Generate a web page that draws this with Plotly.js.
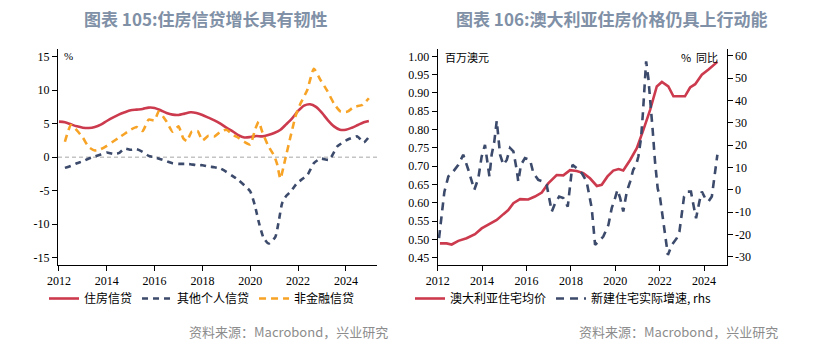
<!DOCTYPE html>
<html>
<head>
<meta charset="utf-8">
<script src="https://cdn.plot.ly/plotly-3.0.1.min.js"></script>
<style>
html,body{margin:0;padding:0;background:#fff;}
#chart{width:813px;height:351px;}
</style>
</head>
<body>
<div id="chart"></div>
<script>
// ---------- Left chart: 图表105 ----------
const housingX = [2012.0,2012.25,2012.5,2012.75,2013.0,2013.25,2013.5,2013.75,2014.0,2014.25,2014.5,2014.75,2015.0,2015.25,2015.5,2015.75,2016.0,2016.25,2016.5,2016.75,2017.0,2017.25,2017.5,2017.75,2018.0,2018.25,2018.5,2018.75,2019.0,2019.25,2019.5,2019.75,2020.0,2020.25,2020.5,2020.75,2021.0,2021.25,2021.5,2021.75,2022.0,2022.25,2022.5,2022.75,2023.0,2023.25,2023.5,2023.75,2024.0,2024.25,2024.5,2024.75,2024.96];
const housingY = [5.3,5.2,4.9,4.6,4.4,4.35,4.5,4.85,5.4,5.9,6.35,6.7,7.0,7.1,7.2,7.4,7.35,7.0,6.6,6.35,6.3,6.5,6.7,6.6,6.3,5.9,5.5,5.0,4.4,3.9,3.3,2.95,3.0,3.15,3.1,3.3,3.6,4.05,4.9,5.8,6.9,7.7,7.9,7.5,6.6,5.5,4.6,4.1,4.1,4.4,4.8,5.2,5.4];

const otherPersonalX = [2012.25,2012.5,2012.75,2013.0,2013.25,2013.5,2013.75,2014.0,2014.25,2014.5,2014.75,2015.0,2015.25,2015.5,2015.75,2016.0,2016.25,2016.5,2016.75,2017.0,2017.25,2017.5,2017.75,2018.0,2018.25,2018.5,2018.75,2019.0,2019.25,2019.5,2019.75,2020.0,2020.2,2020.35,2020.55,2020.77,2021.05,2021.2,2021.33,2021.5,2021.7,2021.95,2022.2,2022.4,2022.66,2022.94,2023.3,2023.64,2024.06,2024.48,2024.75,2024.96];
const otherPersonalY = [-1.6,-1.3,-0.9,-0.6,-0.2,0.1,0.4,0.7,0.5,0.6,1.3,1.1,1.2,0.8,0.2,0.0,-0.3,-0.6,-0.9,-1.0,-1.0,-1.05,-1.2,-1.2,-1.4,-1.5,-1.7,-2.2,-2.8,-3.4,-4.2,-5.1,-7.3,-9.6,-12.0,-12.9,-11.9,-9.4,-6.9,-5.8,-5.1,-3.9,-3.2,-2.6,-0.9,-0.2,-0.4,1.6,2.6,3.1,2.2,3.0];

const nonFinX = [2012.25,2012.5,2012.75,2013.0,2013.25,2013.5,2013.75,2014.0,2014.25,2014.5,2014.75,2015.0,2015.25,2015.5,2015.75,2016.0,2016.17,2016.5,2016.75,2017.0,2017.2,2017.35,2017.55,2017.8,2018.0,2018.25,2018.5,2018.75,2019.0,2019.25,2019.5,2019.75,2020.0,2020.2,2020.35,2020.5,2020.75,2021.0,2021.12,2021.26,2021.45,2021.68,2021.9,2022.1,2022.38,2022.66,2022.94,2023.22,2023.5,2023.78,2024.06,2024.34,2024.69,2024.96];
const nonFinY = [2.3,4.8,4.0,2.9,1.5,1.0,1.2,1.7,2.3,2.9,3.5,4.1,4.5,3.9,5.6,5.5,6.8,5.3,3.8,4.6,2.8,2.4,3.8,3.9,2.5,3.2,3.1,3.8,4.1,3.4,2.9,2.3,1.9,4.1,5.3,3.8,1.7,0.2,-1.0,-3.2,-0.5,3.0,6.2,8.0,10.0,13.2,11.5,9.9,8.0,6.8,6.8,7.5,7.8,8.8];

const leftYTickVals = [15,10,5,0,-5,-10,-15];
const leftYTickText = ['15','10','5','0','-5','-10','-15'];

// ---------- Right chart: 图表106 ----------
const ausPriceX = [2012.1,2012.4,2012.63,2012.93,2013.3,2013.68,2013.98,2014.36,2014.66,2014.96,2015.18,2015.41,2015.71,2016.08,2016.38,2016.69,2016.98,2017.36,2017.66,2017.96,2018.26,2018.56,2018.86,2019.17,2019.39,2019.65,2019.91,2020.15,2020.36,2020.67,2020.97,2021.27,2021.57,2021.87,2022.1,2022.39,2022.62,2023.14,2023.37,2023.6,2023.9,2024.2,2024.6];
const ausPriceY = [0.489,0.489,0.486,0.496,0.503,0.514,0.530,0.542,0.553,0.569,0.580,0.599,0.610,0.609,0.617,0.628,0.653,0.676,0.675,0.689,0.687,0.681,0.667,0.646,0.649,0.672,0.688,0.692,0.688,0.717,0.749,0.800,0.854,0.918,0.930,0.918,0.891,0.891,0.915,0.924,0.950,0.964,0.985];

const newHomeX = [2012.06,2012.18,2012.3,2012.48,2012.7,2012.93,2013.15,2013.38,2013.65,2013.83,2013.98,2014.13,2014.2,2014.33,2014.43,2014.55,2014.66,2014.81,2014.96,2015.11,2015.26,2015.41,2015.56,2015.63,2015.75,2015.93,2016.16,2016.31,2016.53,2016.76,2016.91,2017.06,2017.14,2017.29,2017.47,2017.66,2017.86,2017.96,2018.07,2018.26,2018.49,2018.71,2018.94,2019.09,2019.24,2019.46,2019.69,2019.84,2019.99,2020.1,2020.22,2020.36,2020.52,2020.67,2020.81,2020.94,2021.04,2021.16,2021.24,2021.31,2021.39,2021.49,2021.6,2021.69,2021.79,2021.91,2022.02,2022.14,2022.24,2022.37,2022.55,2022.77,2022.89,2023.0,2023.1,2023.25,2023.41,2023.52,2023.64,2023.79,2023.9,2024.05,2024.2,2024.35,2024.45,2024.6];
const newHomeY = [-21.6,-9.7,-0.9,6.0,8.2,11.2,15.7,9.0,0.0,5.2,14.9,20.1,14.2,6.0,15.7,21.6,30.9,15.7,11.2,13.4,18.7,17.2,9.0,3.7,11.2,14.2,13.4,7.5,4.5,3.7,2.2,-5.2,-9.7,-6.0,-3.0,-3.7,-7.5,1.5,11.2,9.7,7.5,3.7,-8.2,-24.6,-23.2,-20.9,-15.7,-8.2,-3.7,0.0,-3.7,-9.7,-0.8,3.7,9.0,11.2,14.9,23.1,33.6,47.0,57.5,50.0,38.1,26.1,12.7,0.7,-3.7,-12.7,-21.6,-29.1,-24.6,-21.6,-18.7,-9.7,-3.0,-0.8,-0.8,-6.7,-12.7,-5.2,-0.8,-3.7,-5.2,-3.0,5.2,15.7];

const rightYTickVals = [60,50,40,30,20,10,0,-10,-20,-30];
const rightYTickText = ['60','50','40','30','20','10','0','-10','-20','-30'];

const yearTicks = [2012,2014,2016,2018,2020,2022,2024];

// ---------- styles ----------
const RED = '#cc3a4e', NAVY = '#3c4a6b', ORANGE = '#f7a326';
const TICKFONT = {family:'"Liberation Serif", "Times New Roman", serif', size:12, color:'#000'};
const CJK = '"Noto Sans CJK SC", "Noto Sans", sans-serif';
const W = 813, H = 351;
const px = v => v / W, py = v => 1 - v / H;

const traces = [
  {x:housingX, y:housingY, name:'住房信贷', type:'scatter', mode:'lines', xaxis:'x', yaxis:'y',
   line:{color:RED, width:2.6, shape:'spline', smoothing:0.8}, legend:'legend'},
  {x:otherPersonalX, y:otherPersonalY, name:'其他个人信贷', type:'scatter', mode:'lines', xaxis:'x', yaxis:'y',
   line:{color:NAVY, width:2.6, dash:'6px,5px', shape:'spline', smoothing:0.5}, legend:'legend'},
  {x:nonFinX, y:nonFinY, name:'非金融信贷', type:'scatter', mode:'lines', xaxis:'x', yaxis:'y',
   line:{color:ORANGE, width:2.6, dash:'7px,5px', shape:'spline', smoothing:0.5}, legend:'legend'},
  {x:ausPriceX, y:ausPriceY, name:'澳大利亚住宅均价', type:'scatter', mode:'lines', xaxis:'x2', yaxis:'y2',
   line:{color:RED, width:2.6}, legend:'legend2'},
  {x:newHomeX, y:newHomeY, name:'新建住宅实际增速, rhs', type:'scatter', mode:'lines', xaxis:'x2', yaxis:'y3',
   line:{color:NAVY, width:2.6, dash:'8px,6px'}, legend:'legend2'}
];

const axisCommon = {showline:true, linecolor:'#000', linewidth:1, ticks:'outside', ticklen:5, tickwidth:1,
  tickcolor:'#000', showgrid:false, zeroline:false, tickfont:TICKFONT, fixedrange:true};

const layout = {
  width:W, height:H, margin:{l:0,r:0,t:0,b:0},
  paper_bgcolor:'#fff', plot_bgcolor:'#fff', showlegend:true,
  xaxis:Object.assign({}, axisCommon, {domain:[px(58), px(377)], range:[2011.96, 2025.3],
    tickmode:'array', tickvals:yearTicks, anchor:'y'}),
  yaxis:Object.assign({}, axisCommon, {domain:[py(265), py(49)], range:[-16.1, 16.15],
    tickmode:'array', tickvals:leftYTickVals, ticktext:leftYTickText, anchor:'x'}),
  xaxis2:Object.assign({}, axisCommon, {domain:[px(437.7), px(726.7)], range:[2012.0, 2025.02],
    tickmode:'array', tickvals:yearTicks, anchor:'y2'}),
  yaxis2:Object.assign({}, axisCommon, {domain:[py(265), py(49)], range:[0.430, 1.0202],
    dtick:0.05, tick0:0, tickformat:'.2f', anchor:'x2'}),
  yaxis3:Object.assign({}, axisCommon, {domain:[py(265), py(49)], range:[-33.6, 63],
    tickmode:'array', tickvals:rightYTickVals, ticktext:rightYTickText,
    overlaying:'y2', side:'right', anchor:'x2'}),
  legend:{orientation:'h', x:px(44), xanchor:'left', y:py(284), yanchor:'top',
    bgcolor:'rgba(0,0,0,0)', font:{family:CJK, size:12, color:'#000'}, tracegroupgap:0, itemclick:false},
  legend2:{orientation:'h', x:px(410), xanchor:'left', y:py(284), yanchor:'top',
    bgcolor:'rgba(0,0,0,0)', font:{family:CJK, size:12, color:'#000'}, tracegroupgap:0, itemclick:false},
  shapes:[
    {type:'line', xref:'x domain', yref:'y', x0:0, x1:1, y0:0, y1:0,
     line:{color:'#a6a6a6', width:1, dash:'4px,3px'}, layer:'below'}
  ],
  annotations:[
    {text:'<b>图表 105:住房信贷增长具有韧性</b>', xref:'paper', yref:'paper', x:px(205), y:py(19),
     xanchor:'center', yanchor:'middle', showarrow:false, font:{family:CJK, size:17, color:'#8090a6'}},
    {text:'<b>图表 106:澳大利亚住房价格仍具上行动能</b>', xref:'paper', yref:'paper', x:px(611), y:py(19),
     xanchor:'center', yanchor:'middle', showarrow:false, font:{family:CJK, size:17, color:'#8090a6'}},
    {text:'%', xref:'paper', yref:'paper', x:px(62), y:py(56), xanchor:'left', yanchor:'middle',
     showarrow:false, font:{family:TICKFONT.family, size:11, color:'#000'}},
    {text:'百万澳元', xref:'paper', yref:'paper', x:px(443), y:py(57), xanchor:'left', yanchor:'middle',
     showarrow:false, font:{family:CJK, size:11, color:'#000'}},
    {text:'%  同比', xref:'paper', yref:'paper', x:px(720), y:py(57), xanchor:'right', yanchor:'middle',
     showarrow:false, font:{family:CJK, size:11, color:'#000'}},
    {text:'资料来源：Macrobond，兴业研究', xref:'paper', yref:'paper', x:px(390), y:py(331),
     xanchor:'right', yanchor:'middle', showarrow:false, font:{family:CJK, size:13, color:'#8c8c8c'}},
    {text:'资料来源：Macrobond，兴业研究', xref:'paper', yref:'paper', x:px(780), y:py(331),
     xanchor:'right', yanchor:'middle', showarrow:false, font:{family:CJK, size:13, color:'#8c8c8c'}}
  ]
};

Plotly.newPlot('chart', traces, layout, {staticPlot:true, displayModeBar:false});
</script>
</body>
</html>
